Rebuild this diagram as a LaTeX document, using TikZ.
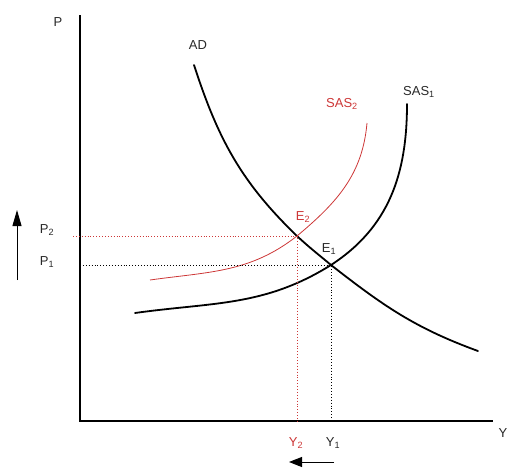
\documentclass[tikz,border=0pt]{standalone}
\usepackage{fontspec}
\setmainfont{Liberation Sans}
\usetikzlibrary{arrows.meta}
\definecolor{shiftred}{RGB}{205,55,55}
\definecolor{inkgray}{RGB}{40,40,40}

\begin{document}
\begin{tikzpicture}[x=1pt,y=-1pt,
  lab/.style={font=\fontsize{13}{15}\selectfont, text=inkgray},
  redlab/.style={lab, text=shiftred},
  curve/.style={line width=1.8pt, line cap=round},
  guide/.style={dotted, line width=0.9pt}]
  \useasboundingbox (0,0) rectangle (509,469);
  % axes
  \coordinate (origin) at (80,421);
  \coordinate (ptop) at (80,15);
  \coordinate (yend) at (493,421);
  \draw[line width=1.6pt] (ptop) -- (origin) -- (yend);
  \node[lab] (plab) at (58,22) {P};
  \node[lab] (ylab) at (503,433) {Y};
  % equilibrium points
  \coordinate (e1) at (331,265);
  \coordinate (e2) at (297,236);
  \coordinate (p1) at (80,265);
  \coordinate (p2) at (73,236);
  \coordinate (y1) at (331,421);
  \coordinate (y2) at (297,421);
  % curve ends
  \coordinate (adtop) at (194,65);
  \coordinate (adend) at (478,351);
  \coordinate (sas1start) at (135,313);
  \coordinate (sas1top) at (407,104);
  \coordinate (sas2start) at (150,280);
  \coordinate (sas2top) at (367,123);
  % curves
  \draw[curve] (adtop) to[out=-72,in=136] (e2) to[out=-43,in=140] (e1) to[out=-38,in=160] (adend);
  \draw[curve] (sas1start) to[out=8,in=212] (e1) to[out=33,in=270] (sas1top);
  \draw[shiftred, line width=0.8pt] (sas2start) to[out=8,in=218] (e2) to[out=40,in=265] (sas2top);
  \node[lab] (adlab) at (198,45) {AD};
  \node[lab] (sas1lab) at (419,92) {SAS\textsubscript{1}};
  \node[redlab] (sas2lab) at (342,104) {SAS\textsubscript{2}};
  % dotted guides
  \draw[guide, shiftred] (p2) -- (e2) -- (y2);
  \draw[guide] (p1) -- (e1) -- (y1);
  \node[redlab] (e2lab) at (303,217) {E\textsubscript{2}};
  \node[lab] (e1lab) at (329,249) {E\textsubscript{1}};
  \node[lab] (p2lab) at (47,230) {P\textsubscript{2}};
  \node[lab] (p1lab) at (47,262) {P\textsubscript{1}};
  \node[redlab] (y2lab) at (296,443) {Y\textsubscript{2}};
  \node[lab] (y1lab) at (333,443) {Y\textsubscript{1}};
  % shift arrows
  \coordinate (upfrom) at (17,280);
  \coordinate (upto) at (17,210);
  \coordinate (leftfrom) at (334,462);
  \coordinate (leftto) at (289,462);
  \draw[line width=1pt, -{Triangle[length=16pt,width=9pt]}] (upfrom) -- (upto);
  \draw[line width=1pt, -{Triangle[length=13pt,width=10pt]}] (leftfrom) -- (leftto);
\end{tikzpicture}
\end{document}
